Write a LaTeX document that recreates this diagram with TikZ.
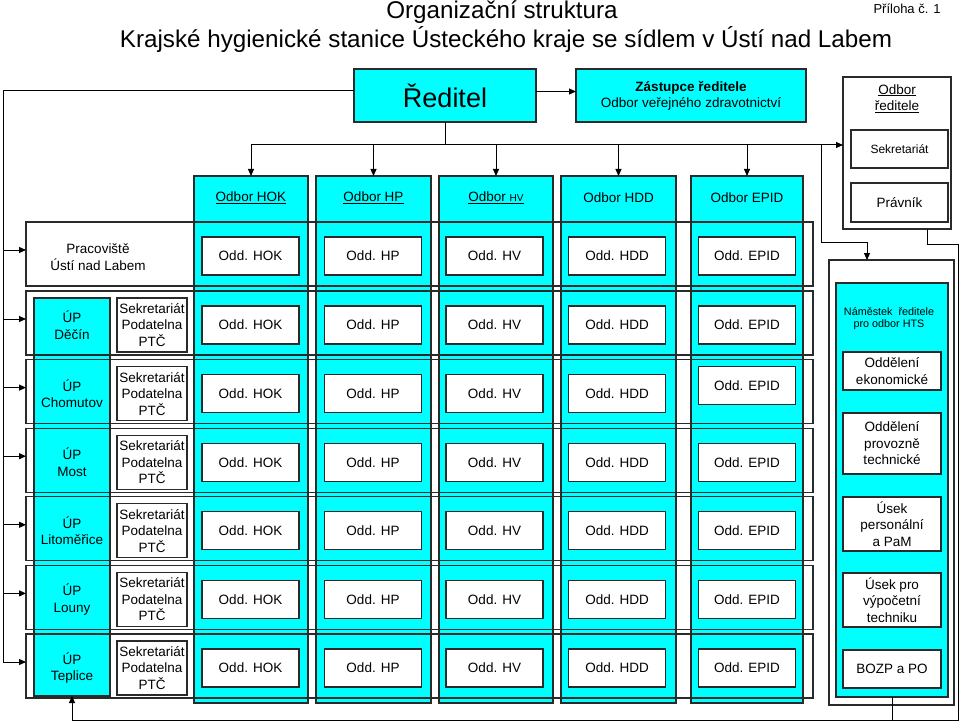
\documentclass[tikz,border=0pt]{standalone}
\usepackage{fontspec}
\setmainfont{Liberation Sans}
\usetikzlibrary{arrows.meta}
\definecolor{cyanc}{HTML}{00FFFF}
\definecolor{bord}{HTML}{2A2A2A}
\newcommand\fs[2]{\fontsize{#1}{#2}\selectfont}
\newcommand\bx[7]{\node[#6,minimum width={#4pt-#2pt},minimum height={#5pt-#3pt}] (#1) at ({(#2+#4)/2},{(#3+#5)/2}) {#7};}
\begin{document}
\begin{tikzpicture}[x=1pt,y=-1pt,
  box/.style={draw=bord,line width=1.2pt,inner sep=0pt,outer sep=0pt,align=center,font=\fs{13.5}{16.5}},
  cy/.style={box,fill=cyanc},
  wb/.style={box,fill=white},
  rowbox/.style={draw=bord,line width=1.2pt,inner sep=0pt,outer sep=0pt},
  txt/.style={inner sep=0pt,align=center,font=\fs{13.5}{16.5}},
  ln/.style={line width=1pt,draw=black},
  arr/.style={ln,-{Triangle[length=7pt,width=6pt]}}]
\fill[white] (0,0) rectangle (960,722);
\useasboundingbox (0,0) rectangle (960,722);
% titles
\node[inner sep=0pt,font=\fs{24.2}{28}] (t1) at (502,12) {Organizační struktura};
\node[inner sep=0pt,font=\fs{24.2}{28}] (t2) at (506,40) {Krajské hygienické stanice Ústeckého kraje se sídlem v Ústí nad Labem};
\node[inner sep=0pt,font=\fs{13}{15}] (pril) at (907,9) {Příloha č. 1};
% top boxes
\bx{red}{354}{69}{536}{122}{cy,font=\fs{27}{30}}{Ředitel}
\bx{zast}{576}{69}{806}{122}{cy,font=\fs{13.5}{16}}{\textbf{Zástupce ředitele}\\Odbor veřejného zdravotnictví}
\bx{odr}{843}{77}{951}{229}{wb}{}
\node[txt] (odrl) at (897,98.5) {\underline{Odbor}\\\underline{ředitele}};
\bx{osek}{851}{130}{948}{168}{wb,font=\fs{12}{14}}{Sekretariát}
\bx{opra}{851}{183}{948}{222}{wb}{Právník}
% odbor columns
\bx{cHOK}{194}{176}{308}{703}{cy}{}
\bx{cHP}{316}{176}{431}{703}{cy}{}
\bx{cHV}{439}{176}{553}{703}{cy}{}
\bx{cHDD}{561}{176}{676}{703}{cy}{}
\bx{cEPID}{691}{176}{803}{703}{cy}{}
\node[txt] (lHOK) at (cHOK |- 0,198) {\underline{Odbor HOK}};
\node[txt] (lHP) at (cHP |- 0,198) {\underline{Odbor HP}};
\node[txt] (lHV) at (cHV |- 0,198) {\underline{Odbor {\fs{10}{12}HV}}};
\node[txt] (lHDD) at (cHDD |- 0,198) {Odbor HDD};
\node[txt] (lEPID) at (cEPID |- 0,198) {Odbor EPID};
% UP column
\bx{upcol}{34}{298}{110}{696}{cy}{}
% Pracoviste row
\bx{prac}{26}{222}{813}{286}{rowbox}{}
\node[txt] (pracl) at (98,257) {Pracoviště\\Ústí nad Labem};
\foreach \n/\x in {HOK/250.5,HP/373,HV/494.5,HDD/617,EPID/747}{
  \node[wb,minimum width=97pt,minimum height=38pt] (p\n) at (\x,256) {Odd. \n};
}
% UP rows
\foreach \i/\nm in {0/Děčín,1/Chomutov,2/Most,3/Litoměřice,4/Louny,5/Teplice}{
  \pgfmathsetmacro\t{291+68.6*\i}
  \node[rowbox,minimum width=787pt,minimum height=64pt] (row\i) at (419.5,{\t+32}) {};
  \node[txt] (up\i) at (72,{\t+34}) {ÚP\\\nm};
  \node[wb,minimum width=70pt,minimum height=54pt] (sek\i) at (152,{\t+34}) {Sekretariát\\Podatelna\\PTČ};
  \foreach \n/\x in {HOK/250.5,HP/373,HV/494.5,HDD/617}{
    \node[wb,minimum width=97pt,minimum height=38pt] (o\n\i) at (\x,{\t+34}) {Odd. \n};
  }
  \pgfmathsetmacro\ey{ifthenelse(\i==1,\t+26,\t+34)}
  \node[wb,minimum width=97pt,minimum height=38pt] (oEPID\i) at (747,\ey) {Odd. EPID};
  \coordinate (a\i) at ([yshift=4pt]row\i.west);
}
% HTS block
\bx{hts}{829}{260}{954}{705}{wb}{}
\bx{hc}{836}{283}{948}{697}{cy}{}
\node[txt,font=\fs{10.8}{12}] (hl) at (889,319) {Náměstek\ \ ředitele\\pro odbor HTS};
\bx{h1}{843}{352}{941}{390}{wb}{Oddělení\\ekonomické}
\bx{h2}{843}{413}{941}{474}{wb}{Oddělení\\provozně\\technické}
\bx{h3}{843}{497}{941}{551}{wb}{Úsek\\personální\\a PaM}
\bx{h4}{843}{573}{941}{627}{wb}{Úsek pro\\výpočetní\\techniku}
\bx{h5}{843}{650}{941}{688}{wb}{BOZP a PO}
% connectors
\coordinate (re) at ([yshift=4pt]red.east);
\draw[arr] (re) -- (re -| zast.west);
\coordinate (B) at (445,145);
\draw[ln] (red.south) -- (red.south |- B);
\draw[arr] (cHOK.north |- B) -- (odr.west |- B);
\foreach \c in {cHOK,cHP,cHV,cHDD,cEPID}{\draw[arr] (\c.north |- B) -- (\c.north);}
\coordinate (V) at (821,242);
\coordinate (H) at (867,260);
\draw[arr] (V |- B) -- (V) -- (V -| H) -- (H);
\coordinate (rw) at ([yshift=4.5pt]red.west);
\coordinate (L) at (3,662);
\draw[ln] (rw) -- (rw -| L) -- (L);
\coordinate (ap) at ([yshift=4pt]prac.west);
\draw[arr] (ap -| L) -- (ap);
\foreach \i in {0,...,5}{\draw[arr] (a\i -| L) -- (a\i);}
\coordinate (R1) at (927,244);
\coordinate (R2) at (958,720);
\draw[arr] (odr.south -| R1) -- (R1) -- (R1 -| R2) -- (R2) -- (R2 -| upcol.south) -- (upcol.south);
\draw[ln] (hc.south) -- (hc.south |- R2);
\end{tikzpicture}
\end{document}
